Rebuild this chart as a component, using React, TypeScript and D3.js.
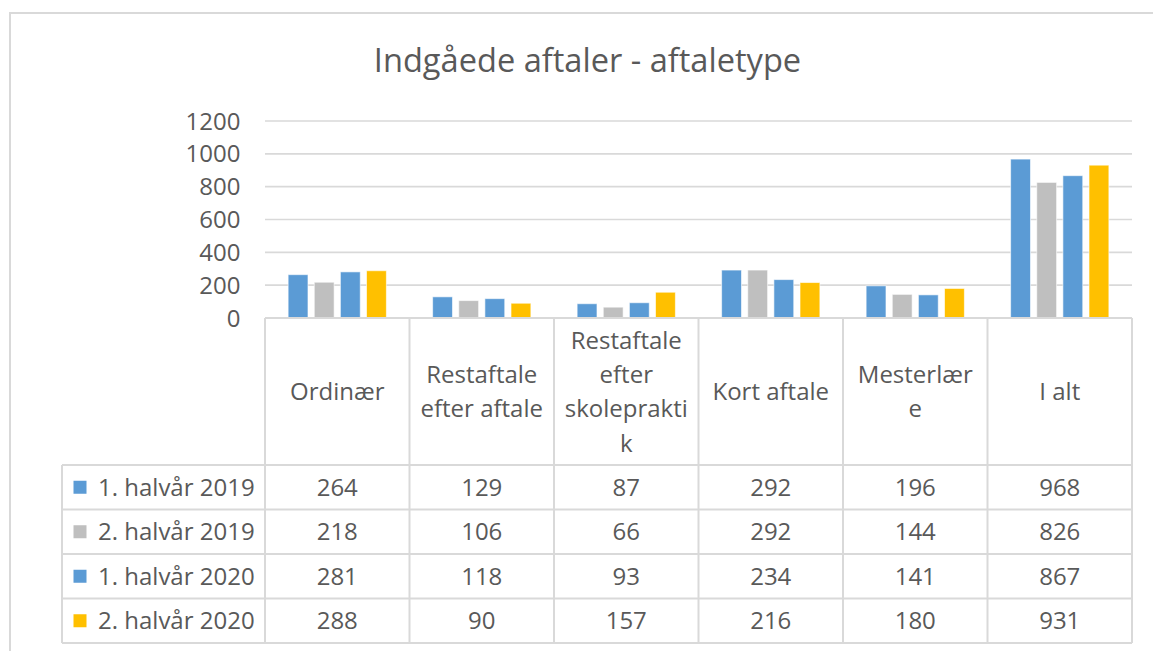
import React from "react";
import * as d3 from "d3";

const categories = [
  "Ordinær",
  "Restaftale efter aftale",
  "Restaftale efter skolepraktik",
  "Kort aftale",
  "Mesterlære",
  "I alt",
];
const categoryLines = [
  ["Ordinær"],
  ["Restaftale", "efter aftale"],
  ["Restaftale", "efter", "skoleprakti", "k"],
  ["Kort aftale"],
  ["Mesterlær", "e"],
  ["I alt"],
];
const seriesNames = ["1. halvår 2019", "2. halvår 2019", "1. halvår 2020", "2. halvår 2020"];
const seriesColors = ["#5B9BD5", "#BFBFBF", "#5B9BD5", "#FFC000"];
const h1_2019 = [264, 129, 87, 292, 196, 968];
const h2_2019 = [218, 106, 66, 292, 144, 826];
const h1_2020 = [281, 118, 93, 234, 141, 867];
const h2_2020 = [288, 90, 157, 216, 180, 931];
const seriesValues = [h1_2019, h2_2019, h1_2020, h2_2020];
const yTicks = [0, 200, 400, 600, 800, 1000, 1200];
const title = "Indgåede aftaler - aftaletype";

const W = 1153;
const H = 651;
const FONT = "'Open Sans', sans-serif";
const TXT = "#595959";
const LINE = "#D9D9D9";

export default function App() {
  const plotLeft = 265;
  const plotRight = 1132;
  const legendLeft = 62;
  const x = d3.scaleBand<string>().domain(categories).range([plotLeft, plotRight]).padding(0);
  const bw = x.bandwidth();
  const inner = d3
    .scaleBand<number>()
    .domain(d3.range(seriesNames.length))
    .range([bw * 0.16, bw * 0.84])
    .paddingInner(0.24);
  const y = d3.scaleLinear().domain([0, 1200]).range([318, 121]);
  const headerTop = y(0);
  const headerBottom = 465;
  const rows = d3.scaleBand<number>().domain(d3.range(seriesNames.length)).range([headerBottom, 643]);
  const tableBottom = 643;
  const headerMid = (headerTop + headerBottom) / 2;
  const lineH = 34.3;

  return (
    <div>
      <style>{"body{margin:0;background:#fff}"}</style>
      <svg width={W} height={H} style={{ display: "block" }} fontFamily={FONT}>
        <rect x={0} y={0} width={W} height={H} fill="#fff" />
        {/* chart frame */}
        <rect x={10} y={13} width={W + 20} height={H + 20} fill="none" stroke={LINE} strokeWidth={2} />
        {/* title */}
        <text x={587.5} y={72} textAnchor="middle" fontSize={32.6} fill={TXT}>
          {title}
        </text>
        {/* gridlines & y labels */}
        {yTicks.map((t) => (
          <g key={t}>
            {t !== 0 && (
              <line x1={plotLeft} x2={plotRight} y1={y(t)} y2={y(t)} stroke={LINE} strokeWidth={1.6} />
            )}
            <text x={240.5} y={y(t)} dy="0.36em" textAnchor="end" fontSize={24} fill={TXT}>
              {t}
            </text>
          </g>
        ))}
        {/* bars */}
        {seriesValues.map((vals, si) =>
          vals.map((v, ci) => (
            <rect
              key={si + "-" + ci}
              x={(x(categories[ci]) as number) + (inner(si) as number)}
              y={y(v)}
              width={inner.bandwidth()}
              height={y(0) - y(v)}
              fill={seriesColors[si]}
              stroke="#fff"
              strokeOpacity={0.6}
              strokeWidth={1}
            />
          ))
        )}
        {/* data table lines */}
        <g stroke={LINE} strokeWidth={2} fill="none">
          <line x1={plotLeft} x2={plotRight} y1={headerTop} y2={headerTop} />
          {rows.domain().map((r) => (
            <line key={"h" + r} x1={legendLeft} x2={plotRight} y1={rows(r)} y2={rows(r)} />
          ))}
          <line x1={legendLeft} x2={plotRight} y1={tableBottom} y2={tableBottom} />
          <line x1={legendLeft} x2={legendLeft} y1={headerBottom} y2={tableBottom} />
          {categories.map((c) => (
            <line key={"v" + c} x1={x(c)} x2={x(c)} y1={headerTop} y2={tableBottom} />
          ))}
          <line x1={plotRight} x2={plotRight} y1={headerTop} y2={tableBottom} />
        </g>
        {/* header labels */}
        {categories.map((c, ci) => {
          const lines = categoryLines[ci];
          const cx = (x(c) as number) + bw / 2;
          const start = headerMid - ((lines.length - 1) * lineH) / 2;
          return (
            <text key={"t" + c} textAnchor="middle" fontSize={24} fill={TXT}>
              {lines.map((ln, li) => (
                <tspan key={li} x={cx} y={start + li * lineH} dy="0.36em">
                  {ln}
                </tspan>
              ))}
            </text>
          );
        })}
        {/* legend + values rows */}
        {seriesNames.map((s, si) => {
          const cy = (rows(si) as number) + rows.bandwidth() / 2;
          return (
            <g key={"r" + si}>
              <rect x={73.5} y={cy - 6.5} width={13} height={13} fill={seriesColors[si]} />
              <text x={98} y={cy} dy="0.36em" fontSize={24} fill={TXT}>
                {s}
              </text>
              {seriesValues[si].map((v, ci) => (
                <text
                  key={ci}
                  x={(x(categories[ci]) as number) + bw / 2}
                  y={cy}
                  dy="0.36em"
                  textAnchor="middle"
                  fontSize={24}
                  fill={TXT}
                >
                  {v}
                </text>
              ))}
            </g>
          );
        })}
      </svg>
    </div>
  );
}
